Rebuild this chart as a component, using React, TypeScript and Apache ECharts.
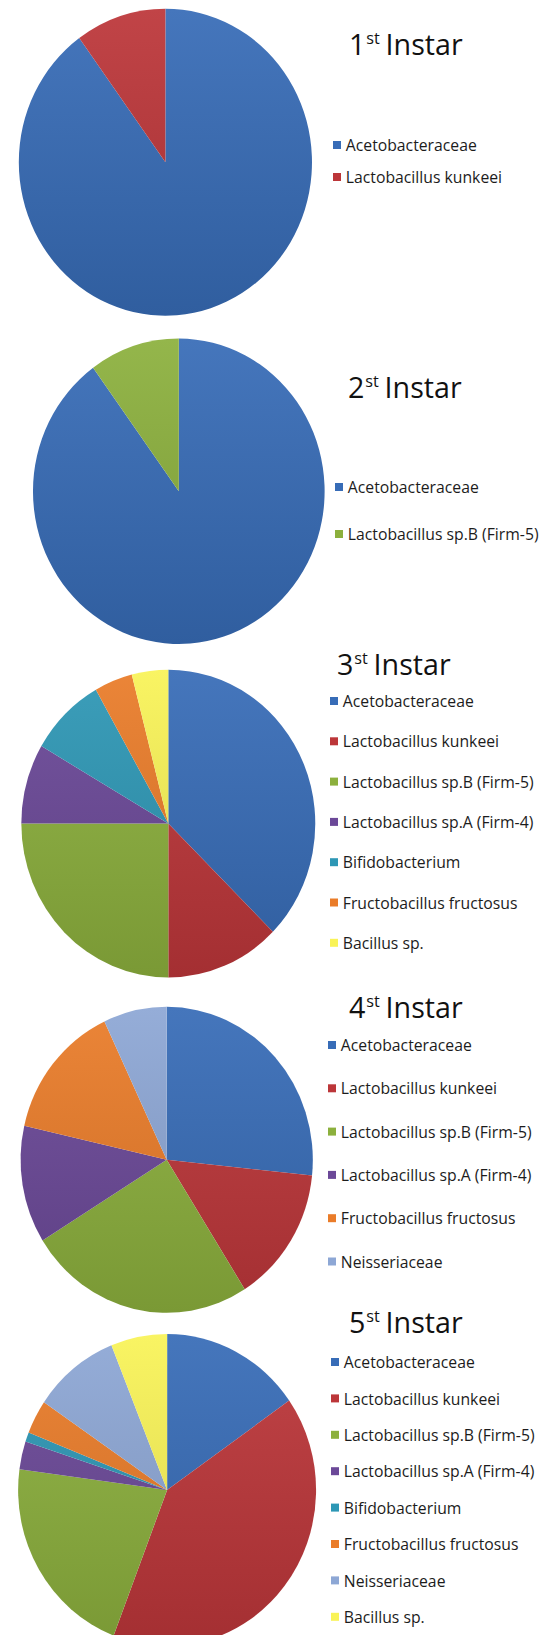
import React, { useEffect, useRef } from 'react';
import * as echarts from 'echarts';

// ---- Data ----
const SPECIES = [
  'Acetobacteraceae',
  'Lactobacillus kunkeei',
  'Lactobacillus sp.B (Firm-5)',
  'Lactobacillus sp.A (Firm-4)',
  'Bifidobacterium',
  'Fructobacillus fructosus',
  'Neisseriaceae',
  'Bacillus sp.',
];

const INSTAR_NUMBERS = ['1', '2', '3', '4', '5'];
const INSTAR_SUFFIX = 'st';
const INSTAR_WORD = 'Instar';

const instar1Names = ['Acetobacteraceae', 'Lactobacillus kunkeei'];
const instar1Values = [90, 10];

const instar2Names = ['Acetobacteraceae', 'Lactobacillus sp.B (Firm-5)'];
const instar2Values = [90, 10];

const instar3Names = [
  'Acetobacteraceae',
  'Lactobacillus kunkeei',
  'Lactobacillus sp.B (Firm-5)',
  'Lactobacillus sp.A (Firm-4)',
  'Bifidobacterium',
  'Fructobacillus fructosus',
  'Bacillus sp.',
];
const instar3Values = [37.4, 12.6, 25.0, 8.4, 8.4, 4.2, 4.0];

const instar4Names = [
  'Acetobacteraceae',
  'Lactobacillus kunkeei',
  'Lactobacillus sp.B (Firm-5)',
  'Lactobacillus sp.A (Firm-4)',
  'Fructobacillus fructosus',
  'Neisseriaceae',
];
const instar4Values = [26.6, 14.4, 25.1, 12.4, 14.4, 7.0];

const instar5Names = [
  'Acetobacteraceae',
  'Lactobacillus kunkeei',
  'Lactobacillus sp.B (Firm-5)',
  'Lactobacillus sp.A (Firm-4)',
  'Bifidobacterium',
  'Fructobacillus fructosus',
  'Neisseriaceae',
  'Bacillus sp.',
];
const instar5Values = [15.3, 40.6, 21.3, 2.9, 1.0, 3.5, 9.4, 6.1];

const INSTARS = [
  { names: instar1Names, values: instar1Values },
  { names: instar2Names, values: instar2Values },
  { names: instar3Names, values: instar3Values },
  { names: instar4Names, values: instar4Values },
  { names: instar5Names, values: instar5Values },
];

// ---- Styles ----
const SPECIES_COLORS = ['#376CB7', '#BC3639', '#8CB03D', '#6B4898', '#2D97B5', '#EA7C29', '#8DA7D5', '#F9F357'];

// The original pies are slightly taller than wide: the whole chart is squeezed horizontally.
const SX = 0.955;
const PAGE_W = 547;
const PAGE_H = 1635;

// positions in page pixels
const LAYOUT = [
  { cx: 165.4, cy: 162.2, r: 153.5, titleX: 349, titleBase: 55, legendX: 333, legendY0: 145, legendStep: 32 },
  { cx: 178.8, cy: 491.3, r: 152.7, titleX: 348, titleBase: 398, legendX: 335, legendY0: 487, legendStep: 47 },
  { cx: 168.3, cy: 823.6, r: 153.9, titleX: 337, titleBase: 675, legendX: 330, legendY0: 701, legendStep: 40.3 },
  { cx: 166.7, cy: 1159.8, r: 153, titleX: 349, titleBase: 1018, legendX: 328, legendY0: 1045, legendStep: 43.3 },
  { cx: 167.1, cy: 1490, r: 156, titleX: 349, titleBase: 1333, legendX: 331, legendY0: 1362, legendStep: 36.4 },
];

const FONT = '"Open Sans", "Liberation Sans", sans-serif';
const LEGEND_LINE = 20;
const TITLE_SIZE = 30;

function mix(hex: string, target: number, t: number): string {
  const n = parseInt(hex.slice(1), 16);
  const ch = [(n >> 16) & 255, (n >> 8) & 255, n & 255].map((c) => Math.round(c + (target - c) * t));
  return '#' + ch.map((c) => c.toString(16).padStart(2, '0')).join('');
}

function colorOf(name: string): string {
  return SPECIES_COLORS[SPECIES.indexOf(name)];
}

export default function App() {
  const ref = useRef<HTMLDivElement>(null);

  useEffect(() => {
    if (!ref.current) return;
    const chart = echarts.init(ref.current, undefined, { renderer: 'svg' });

    const series = INSTARS.map((inst, i) => {
      const L = LAYOUT[i];
      return {
        type: 'pie',
        center: [L.cx / SX, L.cy],
        radius: L.r,
        startAngle: 90,
        clockwise: true,
        silent: true,
        label: { show: false },
        labelLine: { show: false },
        emphasis: { disabled: true },
        itemStyle: { borderWidth: 0 },
        data: inst.names.map((name, k) => {
          const base = colorOf(name);
          return {
            name,
            value: inst.values[k],
            itemStyle: {
              color: {
                type: 'linear',
                global: true,
                x: 0,
                y: L.cy - L.r,
                x2: 0,
                y2: L.cy + L.r,
                colorStops: [
                  { offset: 0, color: mix(base, 255, 0.07) },
                  { offset: 1, color: mix(base, 0, 0.13) },
                ],
              },
            },
          };
        }),
      };
    });

    const legend = INSTARS.map((inst, i) => {
      const L = LAYOUT[i];
      return {
        orient: 'vertical',
        left: L.legendX / SX,
        top: L.legendY0 - LEGEND_LINE / 2,
        padding: 0,
        itemGap: L.legendStep - LEGEND_LINE,
        itemWidth: 8.4,
        itemHeight: 8,
        icon: 'rect',
        selectedMode: false,
        textStyle: { fontFamily: FONT, fontSize: 16.5, color: '#1c1c1c', lineHeight: LEGEND_LINE },
        data: inst.names.map((name) => ({ name, itemStyle: { color: colorOf(name) } })),
      };
    });

    const graphic = INSTAR_NUMBERS.map((num, i) => {
      const L = LAYOUT[i];
      return {
        type: 'text',
        x: L.titleX / SX,
        y: L.titleBase - 29,
        silent: true,
        style: {
          text: `{n|${num}}{s|${INSTAR_SUFFIX}}{i|${INSTAR_WORD}}`,
          align: 'left',
          verticalAlign: 'top',
          rich: {
            n: { fontSize: TITLE_SIZE, fontFamily: FONT, fill: '#111111', lineHeight: 36 },
            s: { fontSize: 17, fontFamily: FONT, fill: '#111111', lineHeight: 17, verticalAlign: 'top', padding: [3, 0, 0, 1] },
            i: { fontSize: TITLE_SIZE, fontFamily: FONT, fill: '#111111', lineHeight: 36, padding: [0, 0, 0, 6] },
          },
        },
      };
    });

    chart.setOption({
      animation: false,
      backgroundColor: '#ffffff',
      legend,
      series,
      graphic,
    } as any);

    return () => chart.dispose();
  }, []);

  return (
    <div style={{ position: 'absolute', left: 0, top: 0, width: PAGE_W, height: PAGE_H, overflow: 'hidden', background: '#fff' }}>
      <div
        ref={ref}
        style={{
          width: Math.ceil(PAGE_W / SX),
          height: PAGE_H,
          transform: `scaleX(${SX})`,
          transformOrigin: '0 0',
        }}
      />
    </div>
  );
}
